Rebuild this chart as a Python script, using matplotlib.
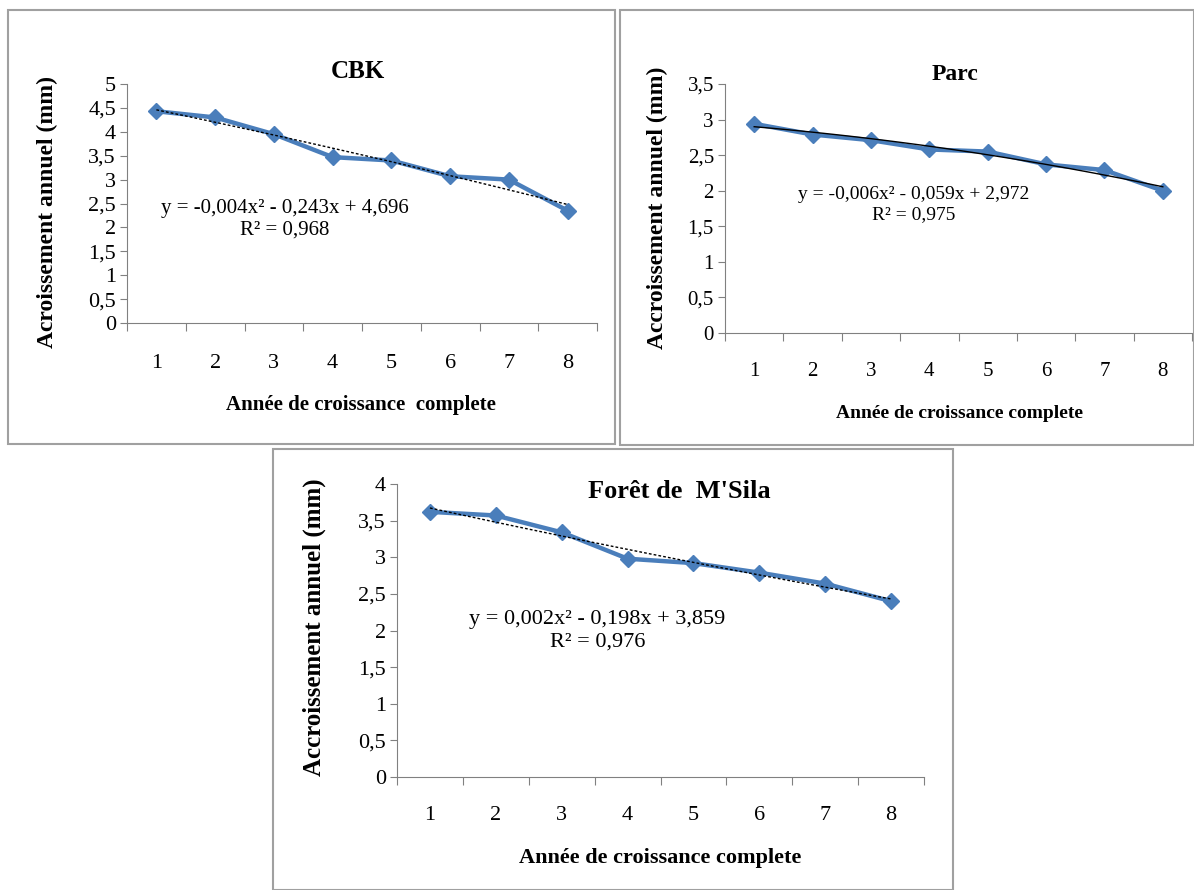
import numpy as np
import matplotlib.pyplot as plt
from matplotlib.patches import Rectangle
from matplotlib.ticker import FuncFormatter

plt.rcParams['font.family'] = ['Liberation Serif', 'DejaVu Serif']

annees = [1, 2, 3, 4, 5, 6, 7, 8]

cbk = [4.43, 4.30, 3.95, 3.47, 3.40, 3.07, 3.00, 2.35]
parc = [2.94, 2.79, 2.71, 2.58, 2.55, 2.37, 2.29, 2.00]
foret = [3.62, 3.57, 3.34, 2.98, 2.92, 2.79, 2.64, 2.40]

# coefficients affichés des courbes de tendance (a, b, c) : y = a x² + b x + c
coef_cbk = [-0.004, -0.243, 4.696]
coef_parc = [-0.006, -0.059, 2.972]
coef_foret = [0.002, -0.198, 3.859]
r2_cbk, r2_parc, r2_foret = 0.968, 0.975, 0.976

W, H = 1194, 890
fig = plt.figure(figsize=(W / 100, H / 100), dpi=100)


def px(x, y):
    return x / W, 1 - y / H


def virgule(v, pos=None):
    return ('%g' % v).replace('.', ',')


def equation(c, r2):
    a, b, k = c
    s = 'y = ' + virgule(round(a, 3)) + 'x² '
    s += ('- ' if b < 0 else '+ ') + virgule(abs(b)) + 'x '
    s += ('- ' if k < 0 else '+ ') + virgule(abs(k))
    return s + '\nR² = ' + virgule(r2)


def panneau(rect, y, coef, r2, ymax, trend_style, eq_pos, eq_size, tick_size, pad, box):
    # cadre gris autour du graphique
    fig.patches.append(Rectangle(px(box[0], box[3]),
                                 (box[2] - box[0]) / W, (box[3] - box[1]) / H,
                                 transform=fig.transFigure, fill=False,
                                 edgecolor='#a0a0a0', linewidth=1.5))
    ax = fig.add_axes(rect)
    xs = np.array(annees)
    ax.plot(xs, y, color='#4A7EBB', linewidth=3.2, marker='D', markersize=8.5,
            markerfacecolor='#4A7EBB', markeredgecolor='#4A7EBB', zorder=3)
    # tendance polynomiale d'ordre 2 calculée sur les données
    xt = np.linspace(1, 8, 100)
    ax.plot(xt, np.polyval(np.polyfit(xs, y, 2), xt), color='black', zorder=4,
            **trend_style)
    ax.set_xlim(0.5, 8.5)
    ax.set_ylim(0, ymax)
    ax.set_yticks(np.arange(0, ymax + 0.01, 0.5))
    ax.yaxis.set_major_formatter(FuncFormatter(virgule))
    ax.set_xticks(np.arange(0.5, 9, 1))
    ax.set_xticklabels([])
    ax.set_xticks(xs, minor=True)
    ax.set_xticklabels([str(v) for v in annees], minor=True)
    ax.tick_params(axis='x', which='minor', length=0, pad=pad, labelsize=tick_size)
    ax.tick_params(axis='x', which='major', length=6, color='#808080')
    ax.tick_params(axis='y', length=5, color='#808080', labelsize=tick_size, pad=3)
    for s in ['top', 'right']:
        ax.spines[s].set_visible(False)
    for s in ['left', 'bottom']:
        ax.spines[s].set_color('#808080')
    ax.patch.set_alpha(0)
    ax.text(eq_pos[0], eq_pos[1], equation(coef, r2), fontsize=eq_size,
            ha='center', va='center', multialignment='center', linespacing=1.25)
    return ax


panneau([127 / W, 1 - 323 / H, 470 / W, 239 / H], cbk, coef_cbk, r2_cbk, 5,
        dict(linestyle=(0, (2, 1.5)), linewidth=1), (3.18, 2.17), 15, 16, 22,
        (8, 10, 615, 444))
panneau([725 / W, 1 - 333 / H, 467 / W, 249 / H], parc, coef_parc, r2_parc, 3.5,
        dict(linestyle='-', linewidth=1), (3.74, 1.8), 14, 15, 21,
        (620, 10, 1194, 445))
panneau([397 / W, 1 - 777 / H, 527 / W, 293 / H], foret, coef_foret, r2_foret, 4,
        dict(linestyle=(0, (2, 1.5)), linewidth=1), (3.54, 2.0), 16, 16, 21,
        (273, 449, 953, 890))

# titres
fig.text(*px(358, 72), 'CBK', fontsize=18, fontweight='bold', ha='center', va='center')
fig.text(*px(955, 74), 'Parc', fontsize=17, fontweight='bold', ha='center', va='center')
fig.text(*px(679, 492), "Forêt de  M'Sila", fontsize=19, fontweight='bold',
         ha='center', va='center')

# titres des axes
fig.text(*px(361, 405), 'Année de croissance  complete', fontsize=15,
         fontweight='bold', ha='center', va='center')
fig.text(*px(959, 413), 'Année de croissance complete', fontsize=14,
         fontweight='bold', ha='center', va='center')
fig.text(*px(660, 858), 'Année de croissance complete', fontsize=16,
         fontweight='bold', ha='center', va='center')
fig.text(*px(47, 212), 'Acroissement annuel (mm)', fontsize=17,
         fontweight='bold', ha='center', va='center', rotation=90)
fig.text(*px(657, 208), 'Accroissement annuel (mm)', fontsize=17,
         fontweight='bold', ha='center', va='center', rotation=90)
fig.text(*px(314, 627), 'Accroissement annuel (mm)', fontsize=18,
         fontweight='bold', ha='center', va='center', rotation=90)

fig.savefig('out.png', dpi=100)
